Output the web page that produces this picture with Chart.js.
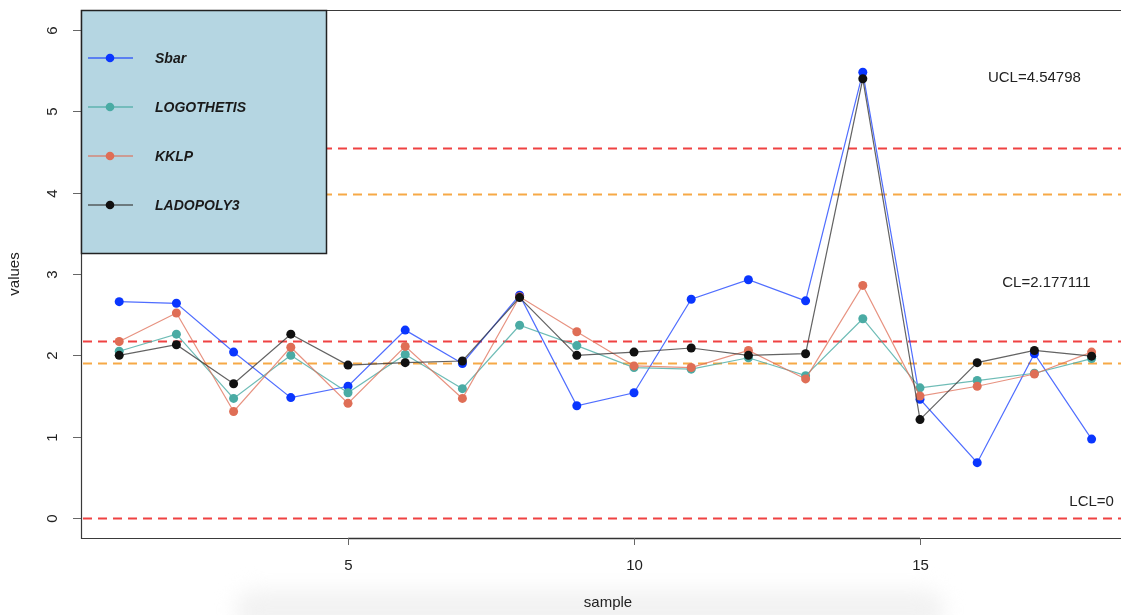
<!DOCTYPE html>
<html>
<head>
<meta charset="utf-8">
<script src="https://cdn.jsdelivr.net/npm/chart.js@4"></script>
<style>
  html, body { margin: 0; padding: 0; background: #ffffff; overflow: hidden; }
  #wrap { position: relative; width: 1121px; height: 615px; }
  #haze { position: absolute; left: 235px; top: 590px; width: 710px; height: 40px;
          background: #f2f2f2; filter: blur(10px); border-radius: 30px; }
  #c { position: absolute; left: 0; top: 0; }
</style>
</head>
<body>
<div id="wrap">
  <div id="haze"></div>
  <canvas id="c" width="1121" height="615"></canvas>
</div>
<script>
// Sample numbers along the x axis
const samples = [1, 2, 3, 4, 5, 6, 7, 8, 9, 10, 11, 12, 13, 14, 15, 16, 17, 18];

// Statistic per sample for each method
const sbar       = [2.66, 2.64, 2.04, 1.48, 1.62, 2.31, 1.90, 2.74, 1.38, 1.54, 2.69, 2.93, 2.67, 5.48, 1.46, 0.68, 2.02, 0.97];
const logothetis = [2.05, 2.26, 1.47, 2.00, 1.54, 2.01, 1.59, 2.37, 2.12, 1.85, 1.83, 1.97, 1.75, 2.45, 1.60, 1.69, 1.78, 1.96];
const kklp       = [2.17, 2.52, 1.31, 2.10, 1.41, 2.11, 1.47, 2.72, 2.29, 1.87, 1.85, 2.06, 1.71, 2.86, 1.50, 1.62, 1.77, 2.04];
const ladopoly3  = [2.00, 2.13, 1.65, 2.26, 1.88, 1.91, 1.93, 2.71, 2.00, 2.04, 2.09, 2.00, 2.02, 5.40, 1.21, 1.91, 2.06, 1.99];

// Control limits (red) and warning limits (orange)
const controlLimits = [4.54798, 2.177111, 0];
const warningLimits = [3.984, 1.904];
const limitLabels   = ["UCL=4.54798", "CL=2.177111", "LCL=0"];

// Axis ticks
const xTicks = [5, 10, 15];
const yTicks = [0, 1, 2, 3, 4, 5, 6];

const seriesNames = ["Sbar", "LOGOTHETIS", "KKLP", "LADOPOLY3"];
const seriesData  = [sbar, logothetis, kklp, ladopoly3];
const pointColors = ["#0a36ff", "#4aaba4", "#df6e56", "#111111"];
const lineColors  = ["rgba(20,60,255,0.75)", "rgba(74,171,164,0.8)", "rgba(223,110,86,0.75)", "rgba(60,60,60,0.8)"];

const FONT = "'Liberation Sans', Arial, Helvetica, sans-serif";

const datasets = seriesNames.map((name, i) => ({
  label: name,
  data: samples.map((s, k) => ({ x: s, y: seriesData[i][k] })),
  borderColor: lineColors[i],
  backgroundColor: pointColors[i],
  pointBackgroundColor: pointColors[i],
  pointBorderWidth: 0,
  pointRadius: 4.5,
  borderWidth: 1.2,
  tension: 0,
  clip: false,
  order: seriesNames.length - i
}));

// Horizontal limit lines, drawn beneath the series
const limitLines = {
  id: 'limitLines',
  beforeDatasetsDraw(chart) {
    const { ctx, chartArea: a, scales: { y } } = chart;
    ctx.save();
    ctx.beginPath();
    ctx.rect(a.left, a.top, a.right - a.left, a.bottom - a.top);
    ctx.clip();
    ctx.lineWidth = 2;
    ctx.setLineDash([9, 6]);
    const drawSet = (vals, color) => {
      ctx.strokeStyle = color;
      vals.forEach(v => {
        const py = Math.round(y.getPixelForValue(v)) + 0.5;
        ctx.beginPath();
        ctx.moveTo(a.left + 2, py);
        ctx.lineTo(a.right, py);
        ctx.stroke();
      });
    };
    drawSet(warningLimits, "rgba(245,160,50,0.9)");
    drawSet(controlLimits, "rgba(238,50,50,0.92)");
    ctx.restore();
  }
};

// Plot frame, axes, tick labels, titles, limit annotations and the legend
const frame = {
  id: 'frame',
  afterDatasetsDraw(chart) {
    const { ctx, chartArea: a, scales: { x, y } } = chart;
    ctx.save();
    ctx.setLineDash([]);

    // limit annotations
    ctx.fillStyle = "#222";
    ctx.font = "15px " + FONT;
    ctx.textBaseline = "middle";
    const notes = [
      { text: limitLabels[0], x: 17.0, y: 5.41 },
      { text: limitLabels[1], x: 17.21, y: 2.89 },
      { text: limitLabels[2], x: 18.0, y: 0.20 }
    ];
    ctx.textAlign = "center";
    notes.forEach(n => {
      ctx.fillText(n.text, x.getPixelForValue(n.x), y.getPixelForValue(n.y));
    });

    // box
    ctx.strokeStyle = "#3a3a3a";
    ctx.lineWidth = 1.2;
    ctx.beginPath();
    ctx.moveTo(a.right + 2, a.top + 0.5);
    ctx.lineTo(a.left + 0.5, a.top + 0.5);
    ctx.lineTo(a.left + 0.5, a.bottom + 0.5);
    ctx.lineTo(a.right + 2, a.bottom + 0.5);
    ctx.stroke();

    // x axis
    ctx.strokeStyle = "#333";
    ctx.lineWidth = 1.6;
    ctx.beginPath();
    ctx.moveTo(x.getPixelForValue(xTicks[0]), a.bottom + 0.5);
    ctx.lineTo(x.getPixelForValue(xTicks[xTicks.length - 1]), a.bottom + 0.5);
    ctx.stroke();
    ctx.lineWidth = 1;
    ctx.strokeStyle = "#666";
    ctx.fillStyle = "#222";
    ctx.font = "15px " + FONT;
    ctx.textAlign = "center";
    ctx.textBaseline = "middle";
    xTicks.forEach(t => {
      const px = Math.round(x.getPixelForValue(t)) + 0.5;
      ctx.beginPath();
      ctx.moveTo(px, a.bottom);
      ctx.lineTo(px, a.bottom + 7);
      ctx.stroke();
      ctx.fillText(String(t), px, a.bottom + 28);
    });
    ctx.fillText("sample", 608, 603);

    // y axis ticks (rotated labels)
    yTicks.forEach(t => {
      const py = Math.round(y.getPixelForValue(t)) + 0.5;
      ctx.beginPath();
      ctx.moveTo(a.left - 8, py);
      ctx.lineTo(a.left, py);
      ctx.stroke();
      ctx.save();
      ctx.translate(53, py);
      ctx.rotate(-Math.PI / 2);
      ctx.fillText(String(t), 0, 0);
      ctx.restore();
    });
    ctx.save();
    ctx.translate(15, (a.top + a.bottom) / 2);
    ctx.rotate(-Math.PI / 2);
    ctx.fillText("values", 0, 0);
    ctx.restore();

    // legend
    const lx = a.left + 0.5, ly = a.top + 0.5, lw = 245, lh = 243;
    ctx.fillStyle = "#b5d6e2";
    ctx.fillRect(lx, ly, lw, lh);
    ctx.strokeStyle = "#222";
    ctx.lineWidth = 1.5;
    ctx.strokeRect(lx, ly, lw, lh);
    ctx.font = "italic bold 14px " + FONT;
    ctx.textAlign = "left";
    seriesNames.forEach((name, i) => {
      const ry = 58 + i * 49;
      ctx.strokeStyle = lineColors[i];
      ctx.lineWidth = 1.3;
      ctx.beginPath();
      ctx.moveTo(88, ry);
      ctx.lineTo(133, ry);
      ctx.stroke();
      ctx.fillStyle = pointColors[i];
      ctx.beginPath();
      ctx.arc(110, ry, 4.3, 0, Math.PI * 2);
      ctx.fill();
      ctx.fillStyle = "#1a1a1a";
      ctx.fillText(name, 155, ry + 1);
    });
    ctx.restore();
  }
};

new Chart(document.getElementById('c'), {
  type: 'line',
  data: { datasets },
  options: {
    responsive: false,
    animation: false,
    layout: { autoPadding: false, padding: { left: 81, top: 10, right: 0, bottom: 77 } },
    plugins: { legend: { display: false }, tooltip: { enabled: false } },
    scales: {
      x: { type: 'linear', display: false, min: 0.332, max: 18.514 },
      y: { type: 'linear', display: false, min: -0.246, max: 6.246 }
    }
  },
  plugins: [limitLines, frame]
});
</script>
</body>
</html>
